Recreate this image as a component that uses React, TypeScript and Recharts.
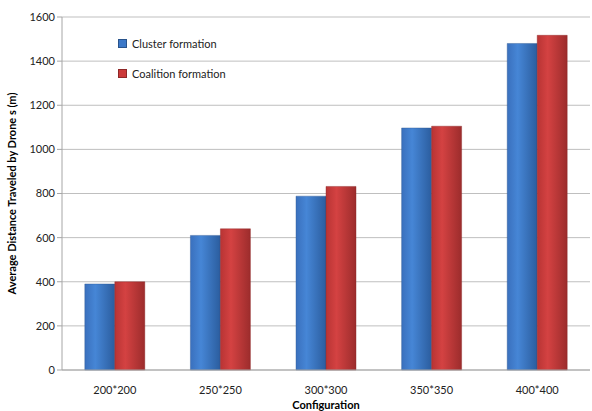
import { BarChart, Bar, XAxis, YAxis, CartesianGrid } from 'recharts';

const configurations = ['200*200', '250*250', '300*300', '350*350', '400*400'];
const clusterFormation = [390, 610, 788, 1097, 1480];
const coalitionFormation = [400, 640, 832, 1105, 1517];
const yTicks = [0, 200, 400, 600, 800, 1000, 1200, 1400, 1600];

const data = configurations.map((name, i) => ({
    name,
    cluster: clusterFormation[i],
    coalition: coalitionFormation[i],
}));

const font = 'Lato, "Open Sans", sans-serif';

function LegendBox() {
    const items = [
        { label: 'Cluster formation', color: '#3c78c8', top: 37 },
        { label: 'Coalition formation', color: '#cc3a3a', top: 67 },
    ];
    return (
        <>
            {items.map((it) => (
                <div
                    key={it.label}
                    style={{
                        position: 'absolute',
                        left: 118,
                        top: it.top,
                        display: 'flex',
                        alignItems: 'center',
                        fontFamily: font,
                        fontSize: 11,
                        color: '#222',
                    }}
                >
                    <span
                        style={{
                            display: 'inline-block',
                            width: 7,
                            height: 7,
                            background: it.color,
                            border: '1px solid rgba(0,0,0,0.3)',
                            marginRight: 5,
                        }}
                    />
                    {it.label}
                </div>
            ))}
        </>
    );
}

export default function App() {
    return (
        <div style={{ position: 'absolute', left: 0, top: 0, width: 592, height: 411, background: '#fff' }}>
            <BarChart
                width={592}
                height={411}
                data={data}
                margin={{ top: 17, right: 2, left: 0, bottom: 0 }}
                barCategoryGap="21.6%"
                barGap={0}
            >
                <defs>
                    <linearGradient id="blueBar" x1="0" y1="0" x2="1" y2="0">
                        <stop offset="0%" stopColor="#3a70bd" />
                        <stop offset="35%" stopColor="#4686d6" />
                        <stop offset="100%" stopColor="#2b5d9e" />
                    </linearGradient>
                    <linearGradient id="redBar" x1="0" y1="0" x2="1" y2="0">
                        <stop offset="0%" stopColor="#b83434" />
                        <stop offset="35%" stopColor="#d44242" />
                        <stop offset="100%" stopColor="#9c2c2c" />
                    </linearGradient>
                </defs>
                <CartesianGrid vertical={false} stroke="#bfbfbf" />
                <XAxis
                    dataKey="name"
                    height={41}
                    axisLine={{ stroke: '#a6a6a6' }}
                    tickLine={false}
                    tick={{ fill: '#222', fontSize: 11, fontFamily: font }}
                    dy={8}
                    label={{
                        value: 'Configuration',
                        position: 'insideBottom',
                        offset: 2,
                        style: { fontWeight: 700, fontSize: 11, fontFamily: font, fill: '#000' },
                    }}
                />
                <YAxis
                    width={62}
                    domain={[0, 1600]}
                    ticks={yTicks}
                    interval={0}
                    axisLine={{ stroke: '#a6a6a6' }}
                    tickLine={{ stroke: '#a6a6a6' }}
                    tickSize={5}
                    tick={{ fill: '#222', fontSize: 11, fontFamily: font }}
                    label={{
                        value: 'Average Distance Traveled by Drone s (m)',
                        angle: -90,
                        position: 'insideLeft',
                        offset: 12,
                        style: { textAnchor: 'middle', fontWeight: 700, fontSize: 11, fontFamily: font, fill: '#000' },
                    }}
                />
                <Bar dataKey="cluster" fill="url(#blueBar)" stroke="#2a5590" strokeOpacity={0.4} isAnimationActive={false} />
                <Bar dataKey="coalition" fill="url(#redBar)" stroke="#8a2424" strokeOpacity={0.4} isAnimationActive={false} />
            </BarChart>
            <LegendBox />
        </div>
    );
}
